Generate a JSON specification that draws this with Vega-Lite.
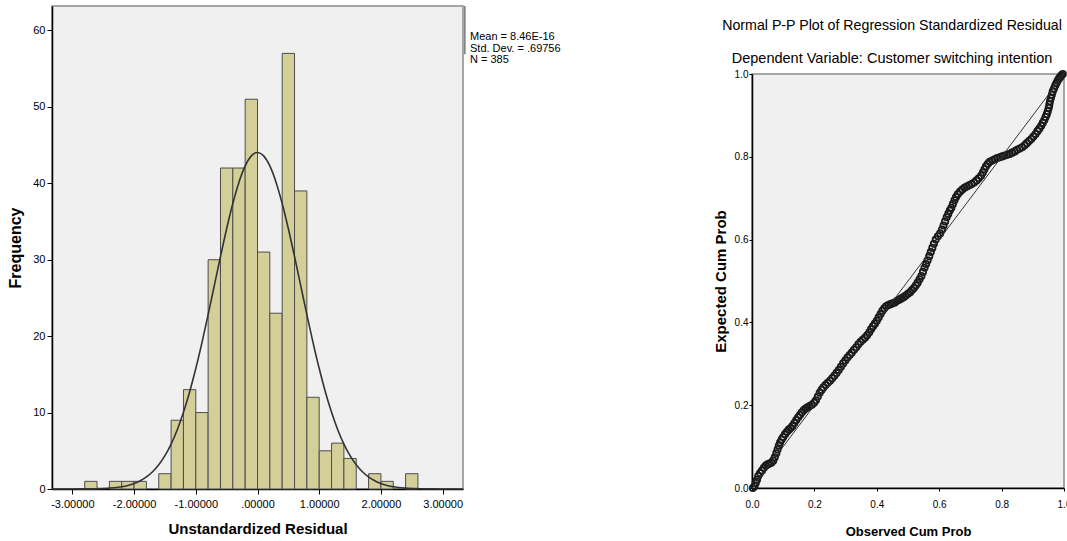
{
  "$schema": "https://vega.github.io/schema/vega-lite/v6.json",
  "background": "white",
  "padding": {"left": 7, "top": 4, "right": 0, "bottom": 0},
  "spacing": 150,
  "config": {
    "view": {"fill": "#F0F0F0", "stroke": "#8a8a8a", "strokeWidth": 1.5},
    "axis": {"grid": false, "domainColor": "#000000", "tickColor": "#000000", "labelColor": "#000000", "titleColor": "#000000", "domainWidth": 1.5}
  },
  "hconcat": [
    {
      "width": 411,
      "height": 483,
      "layer": [
        {
          "data": {"values": [
            {"lo": -2.8, "hi": -2.6, "count": 1},
            {"lo": -2.4, "hi": -2.2, "count": 1},
            {"lo": -2.2, "hi": -2.0, "count": 1},
            {"lo": -2.0, "hi": -1.8, "count": 1},
            {"lo": -1.6, "hi": -1.4, "count": 2},
            {"lo": -1.4, "hi": -1.2, "count": 9},
            {"lo": -1.2, "hi": -1.0, "count": 13},
            {"lo": -1.0, "hi": -0.8, "count": 10},
            {"lo": -0.8, "hi": -0.6, "count": 30},
            {"lo": -0.6, "hi": -0.4, "count": 42},
            {"lo": -0.4, "hi": -0.2, "count": 42},
            {"lo": -0.2, "hi": 0.0, "count": 51},
            {"lo": 0.0, "hi": 0.2, "count": 31},
            {"lo": 0.2, "hi": 0.4, "count": 23},
            {"lo": 0.4, "hi": 0.6, "count": 57},
            {"lo": 0.6, "hi": 0.8, "count": 39},
            {"lo": 0.8, "hi": 1.0, "count": 12},
            {"lo": 1.0, "hi": 1.2, "count": 5},
            {"lo": 1.2, "hi": 1.4, "count": 6},
            {"lo": 1.4, "hi": 1.6, "count": 4},
            {"lo": 1.8, "hi": 2.0, "count": 2},
            {"lo": 2.0, "hi": 2.2, "count": 1},
            {"lo": 2.4, "hi": 2.6, "count": 2}
          ]},
          "mark": {"type": "bar", "fill": "#D4CF98", "stroke": "#4d4d4d", "strokeWidth": 1},
          "encoding": {
            "x": {
              "field": "lo", "type": "quantitative",
              "scale": {"domain": [-3.33, 3.33], "nice": false, "zero": false},
              "axis": {
                "title": "Unstandardized Residual",
                "values": [-3, -2, -1, 0, 1, 2, 3],
                "labelExpr": "datum.value == 0 ? '.00000' : (datum.value < 0 ? '-' + format(-datum.value, '.5f') : format(datum.value, '.5f'))",
                "labelFont": "Liberation Sans", "labelFontSize": 11, "labelPadding": 4, "tickSize": 5,
                "titleFont": "Liberation Sans", "titleFontSize": 15, "titleFontWeight": "bold", "titlePadding": 12
              }
            },
            "x2": {"field": "hi"},
            "y": {
              "field": "count", "type": "quantitative",
              "scale": {"domain": [0, 63.2], "nice": false},
              "axis": {
                "title": "Frequency",
                "values": [0, 10, 20, 30, 40, 50, 60],
                "labelFont": "Liberation Sans", "labelFontSize": 11, "labelPadding": 2, "tickSize": 5,
                "titleFont": "Liberation Sans", "titleFontSize": 16, "titleFontWeight": "bold", "titlePadding": 9
              }
            },
            "y2": {"datum": 0}
          }
        },
        {
          "data": {"values": [
            {"x": -3.33, "freq": 0.0}, {"x": -3.0, "freq": 0.004}, {"x": -2.8, "freq": 0.014}, {"x": -2.6, "freq": 0.042},
            {"x": -2.4, "freq": 0.12}, {"x": -2.2, "freq": 0.30}, {"x": -2.1, "freq": 0.47}, {"x": -2.0, "freq": 0.72},
            {"x": -1.9, "freq": 1.08}, {"x": -1.8, "freq": 1.58}, {"x": -1.7, "freq": 2.26}, {"x": -1.6, "freq": 3.17},
            {"x": -1.5, "freq": 4.36}, {"x": -1.4, "freq": 5.88}, {"x": -1.3, "freq": 7.76}, {"x": -1.2, "freq": 10.03},
            {"x": -1.1, "freq": 12.70}, {"x": -1.0, "freq": 15.76}, {"x": -0.9, "freq": 19.16}, {"x": -0.8, "freq": 22.82},
            {"x": -0.7, "freq": 26.62}, {"x": -0.6, "freq": 30.42}, {"x": -0.5, "freq": 34.06}, {"x": -0.4, "freq": 37.36},
            {"x": -0.3, "freq": 40.15}, {"x": -0.2, "freq": 42.27}, {"x": -0.1, "freq": 43.59}, {"x": 0.0, "freq": 44.04},
            {"x": 0.1, "freq": 43.59}, {"x": 0.2, "freq": 42.27}, {"x": 0.3, "freq": 40.15}, {"x": 0.4, "freq": 37.36},
            {"x": 0.5, "freq": 34.06}, {"x": 0.6, "freq": 30.42}, {"x": 0.7, "freq": 26.62}, {"x": 0.8, "freq": 22.82},
            {"x": 0.9, "freq": 19.16}, {"x": 1.0, "freq": 15.76}, {"x": 1.1, "freq": 12.70}, {"x": 1.2, "freq": 10.03},
            {"x": 1.3, "freq": 7.76}, {"x": 1.4, "freq": 5.88}, {"x": 1.5, "freq": 4.36}, {"x": 1.6, "freq": 3.17},
            {"x": 1.7, "freq": 2.26}, {"x": 1.8, "freq": 1.58}, {"x": 1.9, "freq": 1.08}, {"x": 2.0, "freq": 0.72},
            {"x": 2.1, "freq": 0.47}, {"x": 2.2, "freq": 0.30}, {"x": 2.4, "freq": 0.12}, {"x": 2.6, "freq": 0.042},
            {"x": 2.8, "freq": 0.014}, {"x": 3.0, "freq": 0.004}, {"x": 3.33, "freq": 0.0}
          ]},
          "mark": {"type": "line", "color": "#333333", "strokeWidth": 1.6, "interpolate": "monotone"},
          "encoding": {
            "x": {"field": "x", "type": "quantitative"},
            "y": {"field": "freq", "type": "quantitative"}
          }
        },
        {
          "data": {"values": [{"legend": "stats"}]},
          "mark": {"type": "text", "align": "left", "baseline": "top", "dx": 7, "font": "Liberation Sans", "fontSize": 11, "lineHeight": 11.5, "color": "#000000"},
          "encoding": {
            "x": {"datum": 3.33, "type": "quantitative"},
            "y": {"datum": 59.9, "type": "quantitative"},
            "text": {"value": ["Mean = 8.46E-16", "Std. Dev. = .69756", "N = 385"]}
          }
        },
        {
          "data": {"values": [{"legend": "border"}]},
          "mark": {"type": "rule", "color": "#777777", "strokeWidth": 1.5},
          "encoding": {
            "x": {"datum": 3.36, "type": "quantitative"},
            "y": {"datum": 63.2, "type": "quantitative"},
            "y2": {"datum": 56.9}
          }
        }
      ]
    },
    {
      "spacing": 10,
      "vconcat": [
        {
          "width": 312,
          "height": 1,
          "view": {"fill": null, "stroke": null},
          "data": {"values": [{"spacer": 1}]},
          "mark": {"type": "point", "size": 0, "opacity": 0},
          "encoding": {}
        },
        {
          "width": 312,
          "height": 414,
          "title": {
            "text": "Normal P-P Plot of Regression Standardized Residual",
            "subtitle": "Dependent Variable: Customer switching intention",
            "font": "Liberation Sans",
            "fontSize": 14.2,
            "fontWeight": "normal",
            "color": "#000000",
            "subtitleFont": "Liberation Sans",
            "subtitleFontSize": 14.5,
            "subtitleColor": "#000000",
            "subtitlePadding": 19,
            "offset": 2,
            "anchor": "middle",
            "frame": "bounds"
          },
          "layer": [
            {
              "data": {"values": [
                {"o": 0.003, "e": 0.000}, {"o": 0.008, "e": 0.004}, {"o": 0.012, "e": 0.012}, {"o": 0.016, "e": 0.020},
                {"o": 0.020, "e": 0.029}, {"o": 0.026, "e": 0.036}, {"o": 0.032, "e": 0.042}, {"o": 0.038, "e": 0.049},
                {"o": 0.044, "e": 0.054}, {"o": 0.050, "e": 0.057}, {"o": 0.056, "e": 0.059}, {"o": 0.062, "e": 0.061},
                {"o": 0.068, "e": 0.066}, {"o": 0.073, "e": 0.074}, {"o": 0.078, "e": 0.084}, {"o": 0.082, "e": 0.093},
                {"o": 0.086, "e": 0.102}, {"o": 0.090, "e": 0.110}, {"o": 0.095, "e": 0.117}, {"o": 0.100, "e": 0.123},
                {"o": 0.106, "e": 0.130}, {"o": 0.112, "e": 0.136}, {"o": 0.118, "e": 0.141}, {"o": 0.124, "e": 0.145},
                {"o": 0.130, "e": 0.150}, {"o": 0.136, "e": 0.157}, {"o": 0.142, "e": 0.164}, {"o": 0.148, "e": 0.171},
                {"o": 0.154, "e": 0.177}, {"o": 0.160, "e": 0.183}, {"o": 0.166, "e": 0.188}, {"o": 0.172, "e": 0.192},
                {"o": 0.178, "e": 0.195}, {"o": 0.185, "e": 0.198}, {"o": 0.192, "e": 0.201}, {"o": 0.199, "e": 0.206},
                {"o": 0.205, "e": 0.212}, {"o": 0.211, "e": 0.221}, {"o": 0.217, "e": 0.230}, {"o": 0.223, "e": 0.237},
                {"o": 0.229, "e": 0.243}, {"o": 0.236, "e": 0.249}, {"o": 0.243, "e": 0.254}, {"o": 0.250, "e": 0.259},
                {"o": 0.257, "e": 0.265}, {"o": 0.264, "e": 0.271}, {"o": 0.271, "e": 0.278}, {"o": 0.278, "e": 0.285},
                {"o": 0.285, "e": 0.293}, {"o": 0.292, "e": 0.301}, {"o": 0.299, "e": 0.308}, {"o": 0.306, "e": 0.315},
                {"o": 0.313, "e": 0.321}, {"o": 0.320, "e": 0.327}, {"o": 0.327, "e": 0.334}, {"o": 0.334, "e": 0.340},
                {"o": 0.341, "e": 0.347}, {"o": 0.348, "e": 0.353}, {"o": 0.355, "e": 0.358}, {"o": 0.362, "e": 0.363},
                {"o": 0.369, "e": 0.369}, {"o": 0.376, "e": 0.376}, {"o": 0.382, "e": 0.384}, {"o": 0.388, "e": 0.391},
                {"o": 0.394, "e": 0.397}, {"o": 0.400, "e": 0.404}, {"o": 0.406, "e": 0.412}, {"o": 0.412, "e": 0.420},
                {"o": 0.418, "e": 0.428}, {"o": 0.424, "e": 0.434}, {"o": 0.430, "e": 0.439}, {"o": 0.437, "e": 0.442},
                {"o": 0.444, "e": 0.444}, {"o": 0.451, "e": 0.446}, {"o": 0.458, "e": 0.448}, {"o": 0.465, "e": 0.452},
                {"o": 0.472, "e": 0.455}, {"o": 0.479, "e": 0.458}, {"o": 0.486, "e": 0.461}, {"o": 0.493, "e": 0.465},
                {"o": 0.500, "e": 0.469}, {"o": 0.507, "e": 0.473}, {"o": 0.513, "e": 0.478}, {"o": 0.519, "e": 0.483},
                {"o": 0.525, "e": 0.489}, {"o": 0.531, "e": 0.496}, {"o": 0.537, "e": 0.504}, {"o": 0.543, "e": 0.512},
                {"o": 0.548, "e": 0.522}, {"o": 0.553, "e": 0.532}, {"o": 0.558, "e": 0.541}, {"o": 0.563, "e": 0.550},
                {"o": 0.568, "e": 0.560}, {"o": 0.573, "e": 0.570}, {"o": 0.578, "e": 0.580}, {"o": 0.583, "e": 0.590},
                {"o": 0.589, "e": 0.600}, {"o": 0.596, "e": 0.608}, {"o": 0.603, "e": 0.615}, {"o": 0.609, "e": 0.624},
                {"o": 0.614, "e": 0.634}, {"o": 0.619, "e": 0.644}, {"o": 0.624, "e": 0.654}, {"o": 0.629, "e": 0.662},
                {"o": 0.634, "e": 0.670}, {"o": 0.639, "e": 0.677}, {"o": 0.644, "e": 0.686}, {"o": 0.649, "e": 0.695},
                {"o": 0.654, "e": 0.703}, {"o": 0.660, "e": 0.710}, {"o": 0.667, "e": 0.716}, {"o": 0.674, "e": 0.721},
                {"o": 0.681, "e": 0.725}, {"o": 0.688, "e": 0.728}, {"o": 0.696, "e": 0.731}, {"o": 0.704, "e": 0.734},
                {"o": 0.712, "e": 0.738}, {"o": 0.720, "e": 0.743}, {"o": 0.727, "e": 0.748}, {"o": 0.734, "e": 0.754},
                {"o": 0.740, "e": 0.762}, {"o": 0.745, "e": 0.770}, {"o": 0.750, "e": 0.777}, {"o": 0.756, "e": 0.783},
                {"o": 0.762, "e": 0.788}, {"o": 0.770, "e": 0.791}, {"o": 0.778, "e": 0.794}, {"o": 0.786, "e": 0.797},
                {"o": 0.794, "e": 0.799}, {"o": 0.802, "e": 0.801}, {"o": 0.810, "e": 0.803}, {"o": 0.818, "e": 0.805},
                {"o": 0.826, "e": 0.807}, {"o": 0.834, "e": 0.810}, {"o": 0.842, "e": 0.813}, {"o": 0.850, "e": 0.817},
                {"o": 0.858, "e": 0.820}, {"o": 0.866, "e": 0.823}, {"o": 0.874, "e": 0.828}, {"o": 0.881, "e": 0.833},
                {"o": 0.888, "e": 0.838}, {"o": 0.895, "e": 0.843}, {"o": 0.902, "e": 0.849}, {"o": 0.909, "e": 0.855},
                {"o": 0.915, "e": 0.862}, {"o": 0.921, "e": 0.868}, {"o": 0.927, "e": 0.875}, {"o": 0.932, "e": 0.882},
                {"o": 0.937, "e": 0.889}, {"o": 0.941, "e": 0.896}, {"o": 0.945, "e": 0.903}, {"o": 0.948, "e": 0.910},
                {"o": 0.951, "e": 0.918}, {"o": 0.953, "e": 0.926}, {"o": 0.955, "e": 0.934}, {"o": 0.958, "e": 0.942},
                {"o": 0.961, "e": 0.950}, {"o": 0.964, "e": 0.958}, {"o": 0.968, "e": 0.965}, {"o": 0.972, "e": 0.972},
                {"o": 0.976, "e": 0.978}, {"o": 0.980, "e": 0.984}, {"o": 0.984, "e": 0.989}, {"o": 0.988, "e": 0.993},
                {"o": 0.992, "e": 0.997}, {"o": 0.996, "e": 1.000}
              ]},
              "mark": {"type": "point", "shape": "circle", "filled": false, "stroke": "#1a1a1a", "strokeWidth": 1.8, "size": 40, "opacity": 1},
              "encoding": {
                "x": {
                  "field": "o", "type": "quantitative",
                  "scale": {"domain": [0, 1], "nice": false},
                  "axis": {
                    "title": "Observed Cum Prob",
                    "values": [0, 0.2, 0.4, 0.6, 0.8, 1],
                    "format": ".1f",
                    "labelFont": "Liberation Sans", "labelFontSize": 10, "labelPadding": 8, "tickSize": 3, "labelFlush": false,
                    "titleFont": "Liberation Sans", "titleFontSize": 13, "titleFontWeight": "bold", "titlePadding": 16
                  }
                },
                "y": {
                  "field": "e", "type": "quantitative",
                  "scale": {"domain": [0, 1], "nice": false},
                  "axis": {
                    "title": "Expected Cum Prob",
                    "values": [0, 0.2, 0.4, 0.6, 0.8, 1],
                    "format": ".1f",
                    "labelFont": "Liberation Sans", "labelFontSize": 10, "labelPadding": 1, "tickSize": 3, "labelFlush": false,
                    "titleFont": "Liberation Sans", "titleFontSize": 15, "titleFontWeight": "bold", "titlePadding": 6
                  }
                }
              }
            },
            {
              "data": {"values": [{"o": 0, "e": 0}, {"o": 1, "e": 1}]},
              "mark": {"type": "line", "color": "#333333", "strokeWidth": 1},
              "encoding": {
                "x": {"field": "o", "type": "quantitative"},
                "y": {"field": "e", "type": "quantitative"}
              }
            }
          ]
        }
      ]
    }
  ]
}
